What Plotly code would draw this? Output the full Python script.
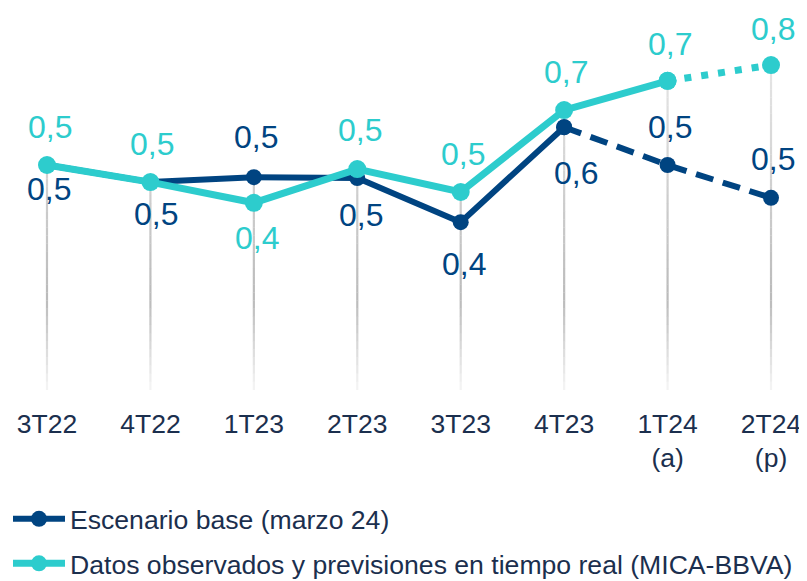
import plotly.graph_objects as go

# ---------------- data ----------------
categories = ["3T22", "4T22", "1T23", "2T23", "3T23", "4T23", "1T24", "2T24"]
tick_labels = ["3T22", "4T22", "1T23", "2T23", "3T23", "4T23", "1T24<br>(a)", "2T24<br>(p)"]
escenario_base = [0.530, 0.492, 0.503, 0.501, 0.403, 0.614, 0.530, 0.457]
mica_bbva = [0.530, 0.492, 0.446, 0.521, 0.470, 0.652, 0.717, 0.752]
name_base = "Escenario base (marzo 24)"
name_mica = "Datos observados y previsiones en tiempo real (MICA-BBVA)"
observed_until = 5   # index of 4T23: last observed quarter for base scenario
mica_until = 6       # index of 1T24: last solid point of MICA

# label placement (pixels, + above / - below; x nudges)
shift_base = [-24, -32, 40, -37, -42, -46, 38, 39]
shift_mica = [38, 38, -35, 39, 38, 38, 37, 36]
xshift_base = [2, 6, 2, 4, 3, 12, 2, 2]
xshift_mica = [3, 2, 3, 3, 2, 2, 2, 2]

NAVY = "#004481"
AQUA = "#2DCCCD"
TEXT = "#1B2F4E"
FONT = "Liberation Sans, Arial, sans-serif"

W, H = 799, 573          # page adds an 8px body margin
Y_MIN, Y_MAX = 0.0078, 0.830
BASE = 0.03

fig = go.Figure()

# ---------------- gradient drop lines ----------------
tops = [max(a, b) for a, b in zip(escenario_base, mica_bbva)]
stops = [(BASE, (246, 246, 246)), (0.23, (186, 186, 186)), (0.45, (205, 205, 205)), (0.83, (236, 236, 236))]


def grey_at(v):
    for (v0, c0), (v1, c1) in zip(stops[:-1], stops[1:]):
        if v <= v1:
            t = max(0.0, min(1.0, (v - v0) / (v1 - v0)))
            c = [round(c0[k] + (c1[k] - c0[k]) * t) for k in range(3)]
            return "rgb(%d,%d,%d)" % tuple(c)
    return "rgb(%d,%d,%d)" % stops[-1][1]


n_bands = 40
band_h = (max(tops) - BASE) / n_bands
for i in range(n_bands):
    lo = BASE + i * band_h
    hi = lo + band_h
    xs, ys = [], []
    for cat, top in zip(categories, tops):
        if top > lo:
            xs += [cat, cat, None]
            ys += [lo, min(hi, top) + 0.0005, None]
    if xs:
        fig.add_trace(go.Scatter(
            x=xs, y=ys, mode="lines",
            line=dict(color=grey_at((lo + hi) / 2), width=2.2),
            showlegend=False, hoverinfo="skip"))

# ---------------- base scenario ----------------
fig.add_trace(go.Scatter(
    x=categories[observed_until:], y=escenario_base[observed_until:],
    mode="lines+markers",
    line=dict(color=NAVY, width=6, dash="18px,10px"),
    marker=dict(color=NAVY, size=16),
    showlegend=False, hoverinfo="skip"))
fig.add_trace(go.Scatter(
    x=categories[:observed_until + 1], y=escenario_base[:observed_until + 1],
    mode="lines+markers", name=name_base, legendgroup="a",
    line=dict(color=NAVY, width=6),
    marker=dict(color=NAVY, size=16)))

# ---------------- MICA-BBVA ----------------
fig.add_trace(go.Scatter(
    x=categories[mica_until:], y=mica_bbva[mica_until:],
    mode="lines+markers",
    line=dict(color=AQUA, width=7, dash="7px,10px"),
    marker=dict(color=AQUA, size=18),
    showlegend=False, hoverinfo="skip"))
fig.add_trace(go.Scatter(
    x=categories[:mica_until + 1], y=mica_bbva[:mica_until + 1],
    mode="lines+markers", name=name_mica, legendgroup="b",
    line=dict(color=AQUA, width=7),
    marker=dict(color=AQUA, size=18)))

# ---------------- data labels ----------------
annotations = []
for series, shifts, xshifts, col in ((escenario_base, shift_base, xshift_base, NAVY),
                                     (mica_bbva, shift_mica, xshift_mica, AQUA)):
    for cat, v, s, xs_ in zip(categories, series, shifts, xshifts):
        annotations.append(dict(
            x=cat, y=v, xref="x", yref="y", showarrow=False,
            text=f"{v:.1f}".replace(".", ","), yshift=s, xshift=xs_,
            font=dict(family=FONT, size=32, color=col)))

fig.update_layout(
    width=W, height=H,
    margin=dict(l=0, r=0, t=0, b=0, autoexpand=False),
    paper_bgcolor="white", plot_bgcolor="white",
    font=dict(family=FONT, color=TEXT),
    annotations=annotations,
    showlegend=True,
    legend=dict(
        orientation="v", x=0.0, xanchor="left", y=1 - 487 / H, yanchor="top",
        font=dict(family=FONT, size=26.6, color=TEXT),
        itemwidth=52, traceorder="grouped", tracegroupgap=7,
        bgcolor="rgba(0,0,0,0)"),
    xaxis=dict(
        type="category", categoryorder="array", categoryarray=categories,
        tickmode="array", tickvals=categories, ticktext=tick_labels,
        range=[-0.377, 7.348], domain=[0, 1],
        showgrid=False, zeroline=False, showline=False, ticks="",
        ticklabelstandoff=5,
        tickfont=dict(family=FONT, size=26.5, color=TEXT)),
    yaxis=dict(
        range=[Y_MIN, Y_MAX], domain=[1 - 392 / H, 1 - 22 / H],
        visible=False, showgrid=False, zeroline=False),
)

fig.write_html("out.html")
